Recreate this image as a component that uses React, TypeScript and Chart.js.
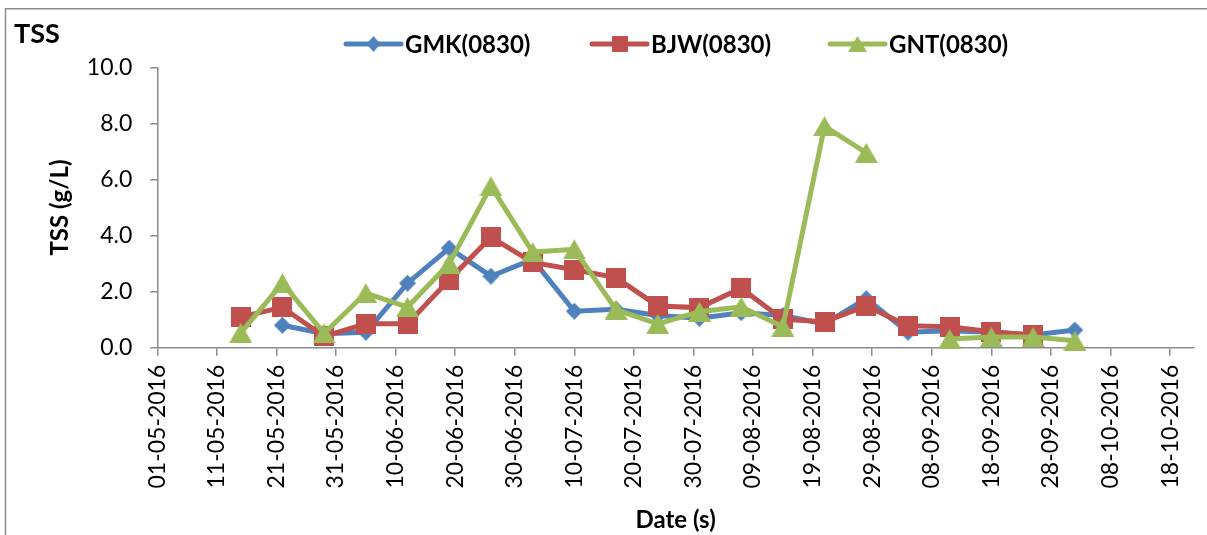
import React, { useEffect, useRef } from 'react';
import { Chart, registerables } from 'chart.js';

Chart.register(...registerables);

// ---------- data ----------
const X_START_DATE = '01-05-2016';
const X_END_DATE = '22-10-2016';
const X_TICK_LABELS = [
  '01-05-2016', '11-05-2016', '21-05-2016', '31-05-2016', '10-06-2016', '20-06-2016',
  '30-06-2016', '10-07-2016', '20-07-2016', '30-07-2016', '09-08-2016', '19-08-2016',
  '29-08-2016', '08-09-2016', '18-09-2016', '28-09-2016', '08-10-2016', '18-10-2016',
];
const Y_MIN = 0;
const Y_MAX = 10;
const Y_STEP = 2;

const GMK_NAME = 'GMK(0830)';
const GMK_DATES = [
  '22-05-2016', '29-05-2016', '05-06-2016', '12-06-2016', '19-06-2016', '26-06-2016',
  '03-07-2016', '10-07-2016', '17-07-2016', '24-07-2016', '31-07-2016', '07-08-2016',
  '14-08-2016', '21-08-2016', '28-08-2016', '04-09-2016', '11-09-2016', '18-09-2016',
  '25-09-2016', '02-10-2016',
];
const GMK_VALUES = [
  0.8, 0.5, 0.55, 2.3, 3.55, 2.55, 3.15, 1.3, 1.37, 1.15, 1.05, 1.25,
  1.15, 0.85, 1.75, 0.55, 0.6, 0.55, 0.45, 0.63,
];

const BJW_NAME = 'BJW(0830)';
const BJW_DATES = [
  '15-05-2016', '22-05-2016', '29-05-2016', '05-06-2016', '12-06-2016', '19-06-2016',
  '26-06-2016', '03-07-2016', '10-07-2016', '17-07-2016', '24-07-2016', '31-07-2016',
  '07-08-2016', '14-08-2016', '21-08-2016', '28-08-2016', '04-09-2016', '11-09-2016',
  '18-09-2016', '25-09-2016',
];
const BJW_VALUES = [
  1.1, 1.44, 0.4, 0.85, 0.85, 2.42, 3.94, 3.04, 2.78, 2.5, 1.49, 1.43,
  2.12, 1.01, 0.93, 1.49, 0.78, 0.75, 0.57, 0.45,
];

const GNT_NAME = 'GNT(0830)';
const GNT_DATES = [
  '15-05-2016', '22-05-2016', '29-05-2016', '05-06-2016', '12-06-2016', '19-06-2016',
  '26-06-2016', '03-07-2016', '10-07-2016', '17-07-2016', '24-07-2016', '31-07-2016',
  '07-08-2016', '14-08-2016', '21-08-2016', '28-08-2016', '04-09-2016', '11-09-2016',
  '18-09-2016', '25-09-2016', '02-10-2016',
];
const GNT_VALUES: (number | null)[] = [
  0.53, 2.3, 0.51, 1.95, 1.45, 3.0, 5.76, 3.41, 3.51, 1.36, 0.85, 1.28,
  1.46, 0.75, 7.9, 6.95, null, 0.31, 0.38, 0.38, 0.25,
];

const CHART_TITLE = 'TSS';
const Y_TITLE = 'TSS (g/L)';
const X_TITLE = 'Date (s)';

// ---------- styles ----------
const W = 1207;
const H = 535;
const BLUE = '#4F81BD';
const RED = '#C0504D';
const GREEN = '#9BBB59';
const AXIS_COLOR = '#8c8c8c';
const FONT = 'Lato';

function dayOffset(s: string): number {
  const [d, m, y] = s.split('-').map(Number);
  const [d0, m0, y0] = X_START_DATE.split('-').map(Number);
  return Math.round((Date.UTC(y, m - 1, d) - Date.UTC(y0, m0 - 1, d0)) / 86400000);
}

function makeMarker(kind: string, color: string, w: number, h: number): HTMLCanvasElement {
  const c = document.createElement('canvas');
  c.width = w;
  c.height = h;
  const g = c.getContext('2d')!;
  g.fillStyle = color;
  g.beginPath();
  if (kind === 'diamond') {
    g.moveTo(w / 2, 0);
    g.lineTo(w, h / 2);
    g.lineTo(w / 2, h);
    g.lineTo(0, h / 2);
  } else if (kind === 'square') {
    g.rect(0, 0, w, h);
  } else {
    g.moveTo(w / 2, 0);
    g.lineTo(w, h);
    g.lineTo(0, h);
  }
  g.closePath();
  g.fill();
  return c;
}

function toPoints(dates: string[], values: (number | null)[]) {
  return dates.map((d, i) => ({ x: dayOffset(d), y: values[i] }));
}

export default function App() {
  const ref = useRef<HTMLCanvasElement | null>(null);

  useEffect(() => {
    document.body.style.margin = '0';
    let chart: Chart | null = null;
    let cancelled = false;

    const build = () => {
      if (cancelled || !ref.current) return;
      const mGMK = makeMarker('diamond', BLUE, 17, 17);
      const mBJW = makeMarker('square', RED, 20, 20);
      const mGNT = makeMarker('triangle', GREEN, 23, 20);
      const lGMK = makeMarker('diamond', BLUE, 14, 16);
      const lBJW = makeMarker('square', RED, 16, 16);
      const lGNT = makeMarker('triangle', GREEN, 19, 16);

      const legendItems = [
        { name: GMK_NAME, color: BLUE, marker: lGMK, x0: 346 },
        { name: BJW_NAME, color: RED, marker: lBJW, x0: 592 },
        { name: GNT_NAME, color: GREEN, marker: lGNT, x0: 830 },
      ];

      const overlay = {
        id: 'overlay',
        afterDraw(c: Chart) {
          const ctx = c.ctx;
          ctx.save();
          // outer frame (top & left visible)
          ctx.strokeStyle = AXIS_COLOR;
          ctx.lineWidth = 1.5;
          ctx.beginPath();
          ctx.moveTo(5.5, H);
          ctx.lineTo(5.5, 8.7);
          ctx.lineTo(W, 8.7);
          ctx.stroke();
          // title
          ctx.fillStyle = '#000';
          ctx.textBaseline = 'alphabetic';
          ctx.textAlign = 'left';
          ctx.font = `bold 27px ${FONT}`;
          ctx.fillText(CHART_TITLE, 14, 43);
          // legend
          const ly = 44;
          ctx.font = `bold 24px ${FONT}`;
          legendItems.forEach((it) => {
            ctx.strokeStyle = it.color;
            ctx.lineWidth = 5;
            ctx.lineCap = 'round';
            ctx.beginPath();
            ctx.moveTo(it.x0, ly);
            ctx.lineTo(it.x0 + 55, ly);
            ctx.stroke();
            const mx = it.x0 + 27.5;
            ctx.drawImage(it.marker, mx - it.marker.width / 2, ly - it.marker.height / 2);
            ctx.fillStyle = '#000';
            ctx.fillText(it.name, it.x0 + 59, 53);
          });
          ctx.restore();
        },
      };

      const common = {
        borderWidth: 5,
        fill: false,
        tension: 0,
        spanGaps: false,
        pointRadius: 8,
        clip: false as const,
      };

      chart = new Chart(ref.current, {
        type: 'line',
        data: {
          datasets: [
            {
              ...common,
              label: GMK_NAME,
              data: toPoints(GMK_DATES, GMK_VALUES),
              borderColor: BLUE,
              backgroundColor: BLUE,
              pointStyle: mGMK,
              order: 2,
            },
            {
              ...common,
              label: BJW_NAME,
              data: toPoints(BJW_DATES, BJW_VALUES),
              borderColor: RED,
              backgroundColor: RED,
              pointStyle: mBJW,
              order: 1,
            },
            {
              ...common,
              label: GNT_NAME,
              data: toPoints(GNT_DATES, GNT_VALUES),
              borderColor: GREEN,
              backgroundColor: GREEN,
              pointStyle: mGNT,
              order: 0,
            },
          ] as any,
        },
        options: {
          responsive: false,
          animation: false,
          events: [],
          layout: { padding: { top: 67.3, right: 13, bottom: 0, left: 0 } },
          plugins: {
            legend: { display: false },
            title: { display: false },
            tooltip: { enabled: false },
          },
          scales: {
            x: {
              type: 'linear',
              min: 0,
              max: dayOffset(X_END_DATE),
              afterBuildTicks: (s: any) => {
                s.ticks = X_TICK_LABELS.map((l) => ({ value: dayOffset(l) }));
              },
              afterFit: (s: any) => {
                s.height = H - 347.7;
              },
              ticks: {
                autoSkip: false,
                minRotation: 90,
                maxRotation: 90,
                padding: 9,
                color: '#000',
                font: { family: FONT, size: 23 },
                callback: (_v: any, i: number) => X_TICK_LABELS[i],
              },
              grid: {
                drawOnChartArea: false,
                drawTicks: true,
                tickLength: 8,
                color: AXIS_COLOR,
                lineWidth: 1.5,
              },
              border: { color: AXIS_COLOR, width: 1.5 },
              title: {
                display: true,
                text: X_TITLE,
                color: '#000',
                font: { family: FONT, size: 24, weight: 'bold' },
                padding: { top: 0, bottom: 0 },
              },
            },
            y: {
              min: Y_MIN,
              max: Y_MAX,
              afterFit: (s: any) => {
                s.width = 157.3;
              },
              ticks: {
                stepSize: Y_STEP,
                padding: 18,
                color: '#000',
                font: { family: FONT, size: 23 },
                callback: (v: any) => Number(v).toFixed(1),
              },
              grid: {
                drawOnChartArea: false,
                drawTicks: true,
                tickLength: 7,
                color: AXIS_COLOR,
                lineWidth: 1.5,
              },
              border: { color: AXIS_COLOR, width: 1.5 },
              title: {
                display: true,
                text: Y_TITLE,
                color: '#000',
                font: { family: FONT, size: 24, weight: 'bold' },
                padding: { top: 46, bottom: 0 },
              },
            },
          },
        } as any,
        plugins: [overlay],
      });
    };

    const fonts = (document as any).fonts;
    if (fonts && fonts.load) {
      Promise.all([
        fonts.load(`23px ${FONT}`),
        fonts.load(`bold 24px ${FONT}`),
      ]).then(build, build);
    } else {
      build();
    }

    return () => {
      cancelled = true;
      if (chart) chart.destroy();
    };
  }, []);

  return (
    <div style={{ width: W, height: H, position: 'relative', background: '#fff' }}>
      <canvas ref={ref} width={W} height={H} style={{ display: 'block' }} />
    </div>
  );
}
